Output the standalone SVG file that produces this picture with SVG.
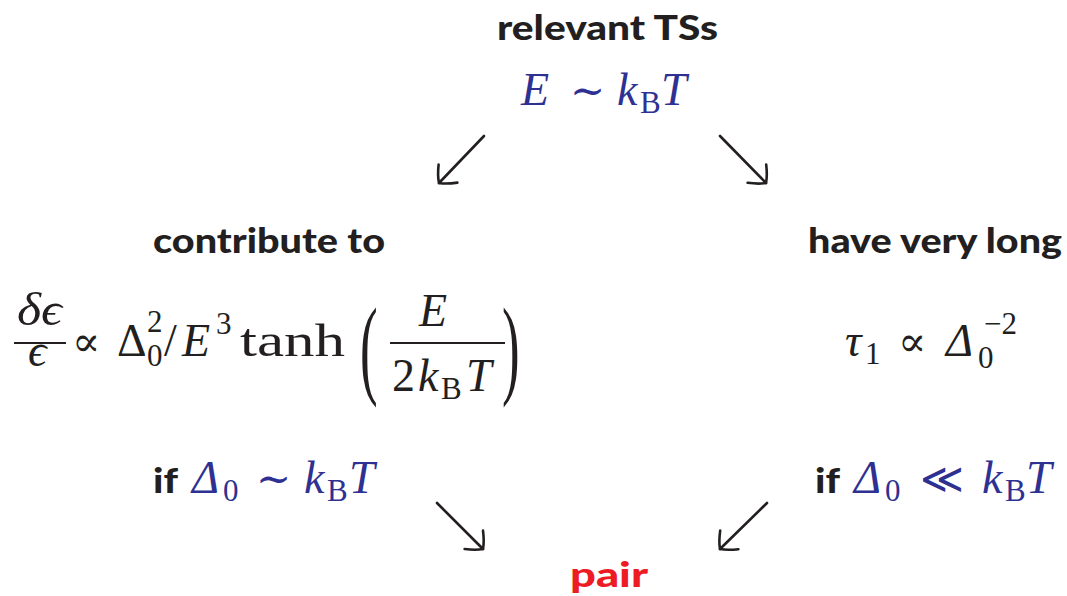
<svg xmlns="http://www.w3.org/2000/svg" width="1067" height="596" viewBox="0 0 1067 596">
<style>
.lbl{font-family:Lato,"Open Sans","Liberation Sans",sans-serif;font-weight:900;font-size:35px;fill:#231f20}
.m{font-family:"Liberation Serif","DejaVu Serif",serif;font-size:46px;fill:#231f20}
.mi{font-style:italic}
.s{font-size:31px;font-style:normal}
.rel{font-style:normal;font-size:42px}
.blue{fill:#2e3192}
.red{fill:#ed1c24}
.bar{stroke:#231f20;stroke-width:2}
.arr{stroke:#231f20;stroke-width:2.6;fill:none;stroke-linecap:round}
</style>
<defs>
<marker id="ah" markerUnits="userSpaceOnUse" viewBox="-20 -16 24 32" refX="0" refY="0" markerWidth="24" markerHeight="32" orient="auto">
<path d="M-13,-13 Q-4,-6 0,0 Q-4,6 -13,13" fill="none" stroke="#231f20" stroke-width="2.6" stroke-linecap="round"/>
</marker>
</defs>
<g id="connectors">
<line class="arr" x1="484" y1="136" x2="439" y2="183" marker-end="url(#ah)"/>
<line class="arr" x1="720" y1="136" x2="766" y2="183" marker-end="url(#ah)"/>
<line class="arr" x1="437" y1="503" x2="483" y2="549" marker-end="url(#ah)"/>
<line class="arr" x1="767" y1="503" x2="720" y2="549" marker-end="url(#ah)"/>
</g>
<g id="top">
<text class="lbl" x="497" y="40" textLength="221" lengthAdjust="spacingAndGlyphs">relevant TSs</text>
<text class="m mi blue" y="105"><tspan x="521">E</tspan><tspan x="570" class="rel">∼</tspan><tspan x="617">k</tspan><tspan x="640" y="113" class="s">B</tspan><tspan x="661" y="105">T</tspan></text>
</g>
<g id="left">
<text class="lbl" x="153" y="253" textLength="232" lengthAdjust="spacingAndGlyphs">contribute to</text>
<text class="m mi" x="17" y="325" textLength="45" lengthAdjust="spacingAndGlyphs">δϵ</text>
<line class="bar" x1="14" y1="343" x2="66" y2="343"/>
<text class="m mi" x="28" y="366">ϵ</text>
<text class="m" y="356"><tspan x="72" class="rel">∝</tspan><tspan x="117">Δ</tspan><tspan x="147" y="366" class="s">0</tspan><tspan x="147" y="332" class="s">2</tspan><tspan x="164" y="356">/</tspan><tspan x="182" font-style="italic">E</tspan><tspan x="216" y="334" class="s">3</tspan></text>
<text class="m" x="240" y="356" textLength="105" lengthAdjust="spacingAndGlyphs">tanh</text>
<text class="m" transform="translate(360,384) scale(1.15,2.4)" x="0" y="0">(</text>
<text class="m mi" x="419" y="326">E</text>
<line class="bar" x1="390" y1="343" x2="505" y2="343"/>
<text class="m" y="391"><tspan x="392">2</tspan><tspan x="418" font-style="italic">k</tspan><tspan x="441" y="399" class="s">B</tspan><tspan x="466" y="391" font-style="italic">T</tspan></text>
<text class="m" transform="translate(502,384) scale(1.15,2.4)" x="0" y="0">)</text>
<text class="lbl" x="153" y="493" textLength="25" lengthAdjust="spacingAndGlyphs">if</text>
<text class="m mi blue" y="493"><tspan x="192">Δ</tspan><tspan x="223" y="501" class="s">0</tspan><tspan x="256" y="493" class="rel">∼</tspan><tspan x="304">k</tspan><tspan x="327" y="501" class="s">B</tspan><tspan x="349" y="493">T</tspan></text>
</g>
<g id="right">
<text class="lbl" x="808" y="253" textLength="254" lengthAdjust="spacingAndGlyphs">have very long</text>
<text class="m mi" y="356"><tspan x="845">τ</tspan><tspan x="865" y="364" class="s">1</tspan><tspan x="898" y="356" class="rel">∝</tspan><tspan x="946">Δ</tspan><tspan x="978" y="368" class="s">0</tspan><tspan x="984" y="334" class="s">−2</tspan></text>
<text class="lbl" x="815" y="493" textLength="25" lengthAdjust="spacingAndGlyphs">if</text>
<text class="m mi blue" y="493"><tspan x="854">Δ</tspan><tspan x="885" y="501" class="s">0</tspan><tspan x="920" y="493" class="rel">≪</tspan><tspan x="982">k</tspan><tspan x="1005" y="501" class="s">B</tspan><tspan x="1026" y="493">T</tspan></text>
</g>
<g id="bottom">
<text class="lbl red" x="570" y="587" font-size="46" textLength="78" lengthAdjust="spacingAndGlyphs">pair</text>
</g>
</svg>
